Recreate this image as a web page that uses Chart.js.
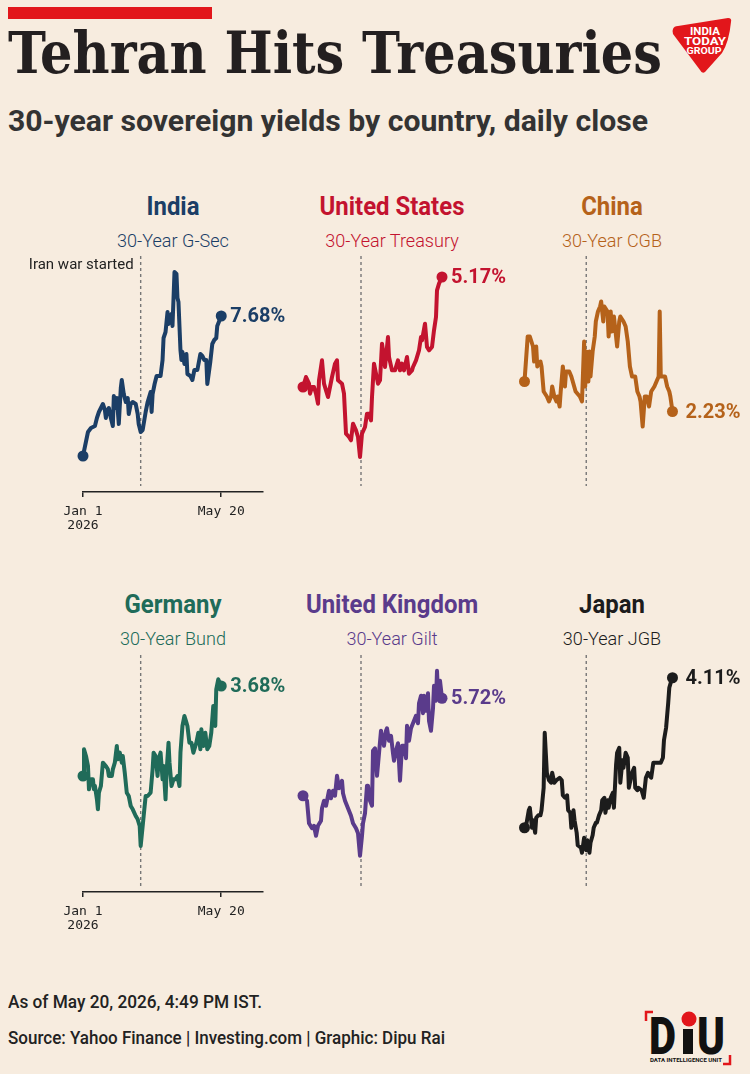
<!DOCTYPE html>
<html lang="en">
<head>
<meta charset="UTF-8">
<meta name="viewport" content="width=device-width, initial-scale=1.0">
<title>Tehran Hits Treasuries</title>
<script src="https://cdn.jsdelivr.net/npm/chart.js"></script>
<style>
  html, body { margin: 0; padding: 0; background: #f7ecdf; }
  #page { position: relative; width: 750px; height: 1074px; overflow: hidden; background: #f7ecdf; font-family: Roboto, "Noto Sans", sans-serif; }
  #page > * { position: absolute; }
  .redbar { left: 8px; top: 7px; width: 204px; height: 12px; background: #e2161b; }
  .fit { white-space: nowrap; transform-origin: left top; }
  #title { left: 8px; top: 23.6px; font: bold 58px/58px "DejaVu Serif", serif; color: #231f20; }
  #subtitle { left: 8px; top: 107.3px; font: bold 29px/29px Roboto, sans-serif; color: #333; }
  .ptitle { font-weight: 700; font-size: 26px; line-height: 26px; white-space: nowrap; }
  .psub { font-weight: 300; font-size: 19px; line-height: 19px; white-space: nowrap; }
  .foot { left: 8px; font: 500 18px/18px Roboto, sans-serif; color: #222; }
</style>
</head>
<body>
<div id="page">
  <div class="redbar"></div>
  <div id="title" class="fit">Tehran Hits Treasuries</div>
  <div id="subtitle" class="fit">30-year sovereign yields by country, daily close</div>

  <svg style="left:668px; top:14px" width="70" height="64" viewBox="668 14 70 64">
    <path d="M673 29 Q674 26 678 26 L728 18 Q732 18 731 22 Q729 42 722 53 L705 72 Q702 74 700 70 L673 34 Q672 31 673 29 Z" fill="#e2161b"/>
    <g font-family="Roboto" font-weight="700" fill="#fff" text-anchor="middle">
      <text x="705" y="35" font-size="10" textLength="30" lengthAdjust="spacingAndGlyphs">INDIA</text>
      <text x="705" y="45" font-size="10.5" textLength="42" lengthAdjust="spacingAndGlyphs">TODAY</text>
      <text x="704" y="54" font-size="9.5" textLength="35" lengthAdjust="spacingAndGlyphs">GROUP</text>
    </g>
  </svg>

  <div id="asof" class="fit foot" style="top:993px">As of May 20, 2026, 4:49 PM IST.</div>
  <div id="source" class="fit foot" style="top:1029px">Source: Yahoo Finance | Investing.com | Graphic: Dipu Rai</div>

  <svg style="left:640px; top:1006px" width="100" height="64" viewBox="640 1006 100 64">
    <path d="M653 1012 H646 V1021" stroke="#e2161b" stroke-width="2.5" fill="none"/>
    <path d="M723 1064 H730 V1055" stroke="#e2161b" stroke-width="2.5" fill="none"/>
    <g font-family="Roboto" font-weight="900" fill="#111">
      <text x="649" y="1054" font-size="52" textLength="27" lengthAdjust="spacingAndGlyphs">D</text>
      <rect x="683" y="1029" width="10" height="25"/>
      <text x="697" y="1054" font-size="52" textLength="28" lengthAdjust="spacingAndGlyphs">U</text>
      <text x="650" y="1062" font-size="6" font-weight="700" textLength="72" lengthAdjust="spacingAndGlyphs">DATA INTELLIGENCE UNIT</text>
    </g>
    <circle cx="689" cy="1019" r="7.5" fill="#e2161b"/>
  </svg>
</div>

<script>
    // x = days since Jan 1, 2026 (day 139 = May 20), y = 30-year yield in %
    const tickDays = [0, 139];
    const tickLabels = [['Jan 1', '2026'], 'May 20'];
    const warStartDay = 58;   // Feb 28
    const warNote = 'Iran war started';

    const countries = ['India', 'United States', 'China', 'Germany', 'United Kingdom', 'Japan'];
    const bonds = ['30-Year G-Sec', '30-Year Treasury', '30-Year CGB', '30-Year Bund', '30-Year Gilt', '30-Year JGB'];

    const indiaDays = [0, 5, 8, 12, 14, 16, 20, 22, 23, 24, 26, 28, 30, 31, 33, 34, 36, 38, 39, 41, 43, 45, 46, 48, 50, 53, 55, 56, 58, 60, 63, 65, 68, 69, 70, 72, 74, 78, 80, 81, 83, 85, 86, 89, 90, 92, 94, 95, 96, 98, 99, 100, 102, 104, 105, 108, 110, 112, 115, 118, 120, 122, 124, 125, 128, 130, 132, 134, 135, 139];
    const indiaYield = [6.98, 7.10, 7.12, 7.13, 7.17, 7.20, 7.24, 7.21, 7.17, 7.20, 7.22, 7.17, 7.13, 7.28, 7.22, 7.27, 7.14, 7.32, 7.36, 7.29, 7.25, 7.27, 7.19, 7.24, 7.25, 7.24, 7.19, 7.14, 7.10, 7.11, 7.20, 7.25, 7.30, 7.20, 7.29, 7.34, 7.38, 7.38, 7.46, 7.57, 7.60, 7.70, 7.64, 7.69, 7.63, 7.90, 7.89, 7.77, 7.75, 7.51, 7.46, 7.50, 7.44, 7.49, 7.39, 7.38, 7.36, 7.41, 7.41, 7.49, 7.48, 7.46, 7.46, 7.34, 7.45, 7.54, 7.56, 7.57, 7.63, 7.68];

    const usDays = [0, 3, 6, 7, 9, 11, 13, 15, 16, 19, 21, 23, 25, 27, 29, 32, 34, 35, 39, 41, 43, 46, 48, 50, 53, 55, 57, 59, 62, 64, 66, 68, 69, 71, 73, 75, 77, 79, 80, 82, 85, 86, 89, 92, 95, 97, 99, 101, 104, 106, 109, 110, 113, 116, 118, 119, 122, 124, 126, 129, 131, 133, 134, 136, 139];
    const usYield = [4.84, 4.87, 4.85, 4.82, 4.84, 4.84, 4.82, 4.79, 4.86, 4.92, 4.85, 4.83, 4.81, 4.84, 4.87, 4.91, 4.92, 4.86, 4.85, 4.82, 4.70, 4.69, 4.68, 4.73, 4.71, 4.69, 4.63, 4.70, 4.72, 4.76, 4.76, 4.74, 4.81, 4.91, 4.88, 4.85, 4.86, 4.97, 4.95, 4.90, 4.99, 4.93, 4.89, 4.89, 4.92, 4.89, 4.91, 4.89, 4.93, 4.88, 4.89, 4.90, 4.92, 4.95, 4.99, 4.98, 5.03, 4.96, 4.95, 4.96, 5.01, 5.05, 5.13, 5.15, 5.17];

    const chinaDays = [0, 3, 5, 8, 9, 11, 12, 15, 16, 18, 21, 23, 25, 26, 28, 30, 31, 33, 34, 36, 38, 39, 42, 44, 48, 52, 54, 56, 57, 58, 60, 61, 62, 64, 66, 67, 69, 71, 72, 74, 75, 78, 79, 81, 82, 84, 86, 87, 89, 90, 93, 95, 97, 99, 101, 104, 106, 108, 109, 111, 113, 115, 117, 119, 122, 124, 126, 127, 128, 130, 132, 134, 136, 137, 139];
    const chinaYield = [2.29, 2.38, 2.38, 2.36, 2.33, 2.36, 2.32, 2.33, 2.32, 2.27, 2.26, 2.25, 2.26, 2.28, 2.26, 2.25, 2.26, 2.24, 2.27, 2.32, 2.28, 2.31, 2.31, 2.30, 2.27, 2.26, 2.25, 2.37, 2.28, 2.35, 2.29, 2.35, 2.30, 2.35, 2.38, 2.41, 2.43, 2.44, 2.45, 2.41, 2.44, 2.43, 2.38, 2.43, 2.39, 2.42, 2.38, 2.36, 2.41, 2.42, 2.41, 2.40, 2.37, 2.32, 2.30, 2.30, 2.27, 2.26, 2.25, 2.20, 2.26, 2.26, 2.24, 2.27, 2.28, 2.29, 2.30, 2.43, 2.30, 2.30, 2.30, 2.28, 2.27, 2.26, 2.23];

    const germanyDays = [0, 1, 3, 5, 6, 8, 10, 11, 12, 14, 15, 16, 18, 20, 23, 25, 26, 29, 30, 32, 34, 35, 37, 39, 40, 42, 44, 46, 48, 50, 53, 55, 57, 58, 60, 61, 63, 65, 68, 70, 71, 73, 75, 76, 78, 80, 81, 83, 84, 86, 87, 89, 91, 93, 95, 97, 98, 100, 102, 104, 105, 107, 109, 111, 114, 116, 118, 119, 121, 123, 125, 127, 129, 131, 133, 134, 136, 139];
    const germanyYield = [3.41, 3.49, 3.47, 3.44, 3.37, 3.40, 3.40, 3.37, 3.38, 3.34, 3.31, 3.36, 3.38, 3.45, 3.44, 3.43, 3.41, 3.41, 3.43, 3.45, 3.50, 3.46, 3.48, 3.45, 3.47, 3.42, 3.36, 3.35, 3.32, 3.31, 3.29, 3.28, 3.26, 3.20, 3.26, 3.29, 3.35, 3.35, 3.36, 3.43, 3.48, 3.47, 3.41, 3.46, 3.48, 3.40, 3.44, 3.34, 3.42, 3.51, 3.45, 3.38, 3.40, 3.40, 3.41, 3.38, 3.48, 3.56, 3.59, 3.57, 3.56, 3.51, 3.51, 3.48, 3.51, 3.54, 3.49, 3.55, 3.50, 3.54, 3.49, 3.50, 3.54, 3.62, 3.56, 3.67, 3.70, 3.68];

    const ukDays = [0, 4, 6, 9, 11, 13, 15, 18, 19, 21, 23, 25, 26, 28, 30, 32, 34, 36, 39, 40, 42, 44, 46, 48, 50, 53, 55, 57, 59, 60, 62, 64, 65, 67, 69, 70, 72, 74, 76, 78, 79, 81, 83, 84, 86, 88, 90, 91, 93, 95, 97, 99, 101, 103, 104, 106, 108, 110, 113, 115, 116, 118, 120, 121, 123, 125, 126, 128, 130, 131, 133, 134, 135, 137, 139];
    const ukYield = [5.33, 5.31, 5.22, 5.20, 5.21, 5.17, 5.21, 5.23, 5.28, 5.31, 5.29, 5.33, 5.35, 5.32, 5.35, 5.33, 5.41, 5.36, 5.39, 5.34, 5.31, 5.29, 5.27, 5.25, 5.22, 5.20, 5.18, 5.09, 5.17, 5.22, 5.26, 5.37, 5.37, 5.31, 5.29, 5.51, 5.52, 5.41, 5.50, 5.59, 5.57, 5.53, 5.59, 5.60, 5.55, 5.57, 5.50, 5.47, 5.51, 5.54, 5.39, 5.53, 5.53, 5.48, 5.61, 5.55, 5.60, 5.62, 5.65, 5.62, 5.70, 5.73, 5.66, 5.73, 5.67, 5.74, 5.63, 5.59, 5.68, 5.77, 5.71, 5.83, 5.74, 5.79, 5.72];

    const japanDays = [0, 2, 4, 5, 7, 8, 10, 11, 13, 15, 16, 18, 19, 21, 23, 25, 26, 28, 30, 33, 35, 36, 38, 40, 41, 43, 44, 46, 47, 49, 50, 53, 54, 56, 58, 59, 61, 62, 64, 65, 67, 68, 70, 72, 73, 75, 76, 78, 79, 81, 83, 84, 86, 87, 89, 90, 92, 93, 95, 97, 98, 100, 101, 103, 104, 106, 107, 110, 112, 114, 116, 117, 119, 121, 123, 125, 128, 130, 131, 133, 135, 136, 138, 139];
    const japanYield = [3.51, 3.53, 3.58, 3.59, 3.51, 3.54, 3.49, 3.55, 3.56, 3.56, 3.58, 3.67, 3.89, 3.73, 3.70, 3.69, 3.73, 3.69, 3.70, 3.71, 3.70, 3.64, 3.63, 3.64, 3.58, 3.57, 3.51, 3.58, 3.54, 3.49, 3.44, 3.43, 3.41, 3.47, 3.42, 3.46, 3.41, 3.45, 3.48, 3.51, 3.53, 3.53, 3.56, 3.58, 3.62, 3.63, 3.57, 3.62, 3.59, 3.63, 3.65, 3.59, 3.76, 3.81, 3.83, 3.69, 3.78, 3.75, 3.81, 3.79, 3.67, 3.71, 3.73, 3.75, 3.67, 3.66, 3.67, 3.66, 3.63, 3.71, 3.73, 3.72, 3.71, 3.77, 3.77, 3.77, 3.77, 3.79, 3.86, 3.91, 4.01, 4.07, 4.10, 4.11];

    // panel layout (pixels on the 750x1074 page)
    const cols = [
        { cx: 172.5, left: 0, width: 300, plotLeft: 83, plotRight: 263, dx: 9 },
        { cx: 392, left: 280, width: 240, plotLeft: 303, plotRight: 484, dx: 9 },
        { cx: 611.7, left: 500, width: 250, plotLeft: 524.5, plotRight: 717.2, dx: 13 }
    ];
    const rows = [
        { top: 240, plotTop: 256, plotBottom: 492, titleTop: 193.1, subTop: 230.7 },
        { top: 640, plotTop: 655, plotBottom: 892, titleTop: 591.1, subTop: 629 }
    ];
    const canvasH = 310;
    const axisH = 40;
    const dayMax = 181;

    const panels = [
        { days: indiaDays, vals: indiaYield, color: '#1b3e66', col: 0, row: 0, yMin: 6.80, yMax: 7.98, axis: true, note: true },
        { days: usDays, vals: usYield, color: '#c3132f', col: 1, row: 0, yMin: 4.525, yMax: 5.233 },
        { days: chinaDays, vals: chinaYield, color: '#b5621a', col: 2, row: 0, yMin: 2.069, yMax: 2.541 },
        { days: germanyDays, vals: germanyYield, color: '#206b59', col: 0, row: 1, yMin: 3.062, yMax: 3.773, axis: true },
        { days: ukDays, vals: ukYield, color: '#5a3b8b', col: 1, row: 1, yMin: 4.945, yMax: 5.893 },
        { days: japanDays, vals: japanYield, color: '#1c1c1c', col: 2, row: 1, yMin: 3.253, yMax: 4.201 }
    ];

    // dashed "war started" line + end-of-line value label
    const markers = {
        id: 'markers',
        beforeDatasetsDraw(chart, args, o) {
            const { ctx, chartArea, scales } = chart;
            const x = scales.x.getPixelForValue(warStartDay);
            ctx.save();
            ctx.strokeStyle = '#777';
            ctx.lineWidth = 1.4;
            ctx.setLineDash([3, 3]);
            ctx.beginPath();
            ctx.moveTo(x, chartArea.top);
            ctx.lineTo(x, chartArea.bottom - 6);
            ctx.stroke();
            if (o.note) {
                ctx.setLineDash([]);
                ctx.fillStyle = '#222';
                ctx.font = '15px Roboto';
                ctx.textAlign = 'right';
                ctx.textBaseline = 'alphabetic';
                ctx.fillText(warNote, x - 7, chartArea.top + 12.5);
            }
            ctx.restore();
        },
        afterDatasetsDraw(chart, args, o) {
            const ctx = chart.ctx;
            const pts = chart.getDatasetMeta(0).data;
            const p = pts[pts.length - 1];
            ctx.save();
            ctx.font = 'bold 20px Roboto';
            ctx.fillStyle = o.color;
            ctx.textAlign = 'left';
            ctx.textBaseline = 'middle';
            ctx.fillText(o.label, p.x + o.dx, p.y + 1);
            ctx.restore();
        }
    };

    const page = document.getElementById('page');

    panels.forEach((p, i) => {
        const c = cols[p.col], r = rows[p.row];

        // country name + bond name
        const t = document.createElement('div');
        t.className = 'ptitle';
        t.textContent = countries[i];
        t.style.cssText = `left:${c.cx}px; top:${r.titleTop}px; color:${p.color}; transform:translateX(-50%) scaleX(0.92);`;
        page.appendChild(t);
        const s = document.createElement('div');
        s.className = 'psub';
        s.textContent = bonds[i];
        s.style.cssText = `left:${c.cx}px; top:${r.subTop}px; color:${p.color}; transform:translateX(-50%) scaleX(0.95);`;
        page.appendChild(s);

        const cv = document.createElement('canvas');
        cv.width = c.width;
        cv.height = canvasH;
        cv.style.cssText = `left:${c.left}px; top:${r.top}px;`;
        page.appendChild(cv);

        const n = p.days.length;
        const padBottom = r.top + canvasH - r.plotBottom - (p.axis ? axisH : 0);

        new Chart(cv.getContext('2d'), {
            type: 'line',
            data: {
                datasets: [{
                    data: p.days.map((d, k) => ({ x: d, y: p.vals[k] })),
                    borderColor: p.color,
                    backgroundColor: p.color,
                    borderWidth: 4,
                    borderJoinStyle: 'round',
                    borderCapStyle: 'round',
                    tension: 0,
                    clip: false,
                    pointRadius: ctx => (ctx.dataIndex === 0 || ctx.dataIndex === n - 1) ? 5.5 : 0,
                    pointBorderWidth: 0,
                    pointHoverRadius: 0
                }]
            },
            options: {
                responsive: false,
                animation: false,
                devicePixelRatio: 1,
                events: [],
                layout: {
                    padding: {
                        left: c.plotLeft - c.left,
                        right: c.left + c.width - c.plotRight,
                        top: r.plotTop - r.top,
                        bottom: padBottom
                    }
                },
                scales: {
                    x: {
                        type: 'linear',
                        min: 0,
                        max: dayMax,
                        display: !!p.axis,
                        afterBuildTicks: axis => { axis.ticks = tickDays.map(v => ({ value: v })); },
                        afterFit: axis => { if (p.axis) axis.height = axisH; },
                        ticks: {
                            callback: (v, idx) => tickLabels[idx],
                            autoSkip: false,
                            maxRotation: 0,
                            padding: 8,
                            color: '#222',
                            font: { family: 'DejaVu Sans Mono', size: 13, lineHeight: 1.05 }
                        },
                        grid: { drawOnChartArea: false, drawTicks: true, tickLength: 5, color: '#222', lineWidth: 1.5 },
                        border: { display: true, color: '#222', width: 1.5 }
                    },
                    y: { display: false, min: p.yMin, max: p.yMax }
                },
                plugins: {
                    legend: { display: false },
                    tooltip: { enabled: false },
                    markers: {
                        note: !!p.note,
                        color: p.color,
                        dx: c.dx,
                        label: p.vals[n - 1].toFixed(2) + '%'
                    }
                }
            },
            plugins: [markers]
        });
    });

    // stretch/squeeze the headline texts to the widths they have in the graphic
    function fitWidth(id, w) {
        const el = document.getElementById(id);
        const natural = el.getBoundingClientRect().width;
        el.style.transform = 'scaleX(' + (w / natural) + ')';
    }
    fitWidth('title', 654);
    fitWidth('subtitle', 640);
    fitWidth('asof', 254);
    fitWidth('source', 437);
</script>
</body>
</html>
